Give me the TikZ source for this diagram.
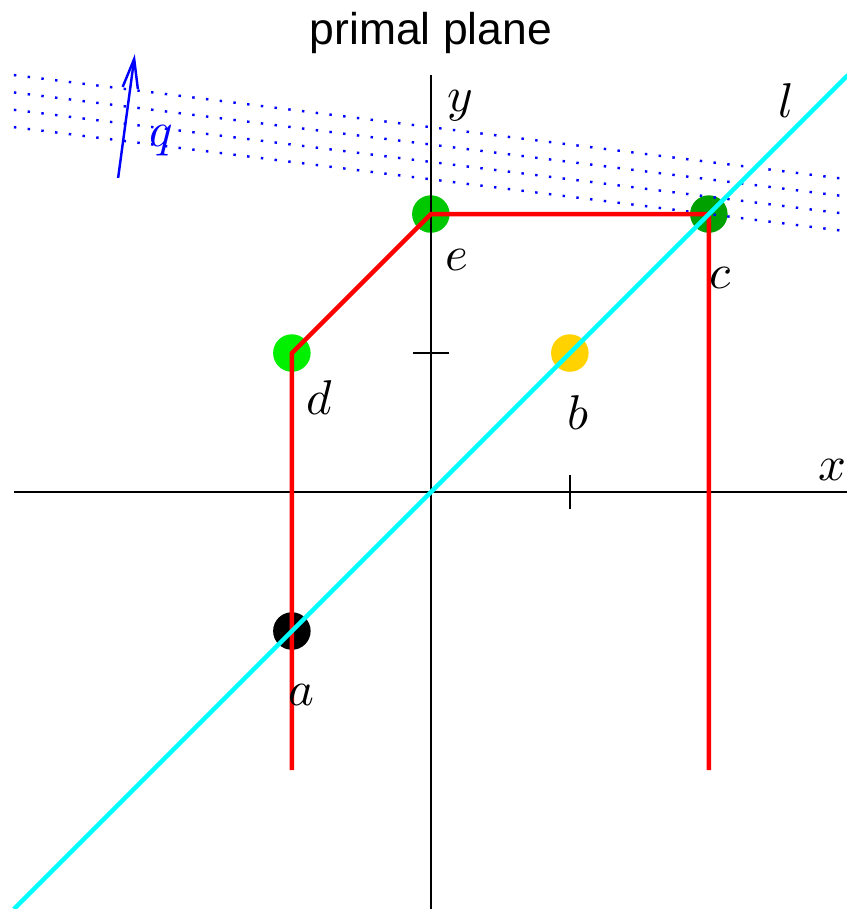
\documentclass[tikz,border=0pt]{standalone}
\usepackage{fontspec}
\setsansfont{Liberation Sans}
\usepackage{tikz}
\usetikzlibrary{arrows.meta, positioning}

\definecolor{ptgold}{HTML}{FFD200}
\definecolor{ptgreen}{HTML}{00C800}
\definecolor{ptdark}{HTML}{00A000}
\definecolor{ptlight}{HTML}{00F000}
\definecolor{linecyan}{HTML}{00FFFF}

\tikzset{
  pt/.style={circle, inner sep=0pt, minimum size=0.27cm},
  axis/.style={line width=0.45pt},
  hull/.style={red, line width=0.9pt},
  lline/.style={linecyan, line width=0.9pt},
  dual/.style={blue, line width=0.5pt, dash pattern=on 0.5pt off 2.33pt}
}

\begin{document}
\begin{tikzpicture}[>={Straight Barb[length=2.1mm, width=1.1mm]}]
  \useasboundingbox (-3.1,-3.0) rectangle (2.99,3.54);
  \node[font=\sffamily\fontsize{9.1}{11}\selectfont, anchor=base] (title) at (0,3.22) {primal plane};

  \node[pt, fill=black] (a) at (-1,-1) {};
  \node[pt, fill=ptgold] (b) at (1,1) {};
  \node[pt, fill=ptdark] (c) at (2,2) {};
  \node[pt, fill=ptlight] (d) at (-1,1) {};
  \node[pt, fill=ptgreen] (e) at (0,2) {};

  \foreach \k in {0,...,3}
    \draw[dual] (-3,{2.625+0.125*\k}) -- (3,{1.875+0.125*\k});

  \coordinate (xl) at (-3,0);
  \coordinate (xr) at (3,0);
  \coordinate (yb) at (0,-3);
  \coordinate (yt) at (0,3);
  \draw[axis] (xl) -- (xr);
  \draw[axis] (yb) -- (yt);
  \draw[axis] (1,-0.125) -- (1,0.125);
  \draw[axis] (-0.13,1) -- (0.13,1);

  \coordinate (r1) at (-1,-2);
  \coordinate (r2) at (2,-2);
  \draw[hull] (r1) -- (d.center) -- (e.center) -- (c.center) -- (r2);

  \coordinate (l1) at (-3,-3);
  \coordinate (l2) at (3,3);
  \draw[lline] (l1) -- (l2);

  \coordinate (q0) at (-2.25,2.26);
  \coordinate (q1) at (-2.13,3.15);
  \draw[->, blue, line width=0.5pt] (q0) -- (q1);
  \node[blue] (ql) at (-1.94,2.53) {$q$};

  \node (al) at (-0.93,-1.46) {$a$};
  \node (bl) at (1.06,0.57) {$b$};
  \node (cl) at (2.08,1.54) {$c$};
  \node (dl) at (-0.8,0.68) {$d$};
  \node (el) at (0.19,1.67) {$e$};
  \node (xlab) at (2.89,0.16) {$x$};
  \node (ylab) at (0.21,2.78) {$y$};
  \node (llab) at (2.56,2.82) {$l$};
\end{tikzpicture}
\end{document}
